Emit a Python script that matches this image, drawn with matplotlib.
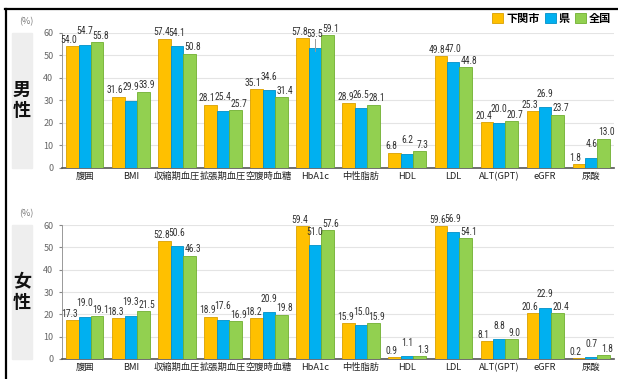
import matplotlib.pyplot as plt
import numpy as np
from matplotlib.patches import Rectangle
from matplotlib.lines import Line2D
from matplotlib import font_manager

plt.rcParams['font.family'] = ['Noto Sans CJK JP', 'DejaVu Sans']

# 数値ラベル用の細めのフォント（あるものを使う）
installed = {f.name for f in font_manager.fontManager.ttflist}
num_font = 'Noto Sans CJK JP'
for name in ['Liberation Sans Narrow', 'Roboto Condensed', 'DejaVu Sans Condensed',
             'Open Sans Condensed']:
    if name in installed:
        num_font = name
        break

# 検査項目
categories = ['腹囲', 'BMI', '収縮期血圧', '拡張期血圧', '空腹時血糖', 'HbA1c',
              '中性脂肪', 'HDL', 'LDL', 'ALT(GPT)', 'eGFR', '尿酸']
series_names = ['下関市', '県', '全国']

# 男性 (%)
male_city = [54.0, 31.6, 57.4, 28.1, 35.1, 57.8, 28.9, 6.8, 49.8, 20.4, 25.3, 1.8]
male_pref = [54.7, 29.9, 54.1, 25.4, 34.6, 53.5, 26.5, 6.2, 47.0, 20.0, 26.9, 4.6]
male_nation = [55.8, 33.9, 50.8, 25.7, 31.4, 59.1, 28.1, 7.3, 44.8, 20.7, 23.7, 13.0]

# 女性 (%)
female_city = [17.3, 18.3, 52.8, 18.9, 18.2, 59.4, 15.9, 0.9, 59.6, 8.1, 20.6, 0.2]
female_pref = [19.0, 19.3, 50.6, 17.6, 20.9, 51.0, 15.0, 1.1, 56.9, 8.8, 22.9, 0.7]
female_nation = [19.1, 21.5, 46.3, 16.9, 19.8, 57.6, 15.9, 1.3, 54.1, 9.0, 20.4, 1.8]

colors = ['#FFC000', '#00B0F0', '#92D050']
edges = ['#D9A000', '#0090C8', '#70B030']

fig = plt.figure(figsize=(6.18, 3.79), dpi=100)

# 外枠
fig.add_artist(Line2D([0.008, 1.0], [0.976, 0.976], color='black', lw=1.6))
fig.add_artist(Line2D([0.009, 0.009], [0.0, 0.976], color='black', lw=1.6))


def draw_panel(rect, data, side_label, box_rect):
    ax = fig.add_axes(rect)
    x = np.arange(len(categories))
    w = 0.27
    for i, vals in enumerate(data):
        xs = x + (i - 1) * w
        ax.bar(xs, vals, width=w, color=colors[i], edgecolor=edges[i],
               linewidth=0.6, zorder=3)
        for xi, v in zip(xs, vals):
            lift = 3.8 if i == 1 else 0.6
            shift = (i - 1) * 0.07
            ax.text(xi + shift, v + lift, f'{v:.1f}', ha='center', va='bottom',
                    fontsize=6.9, color='#333333', zorder=4, family=num_font)
    ax.set_xlim(-0.5, len(categories) - 0.5)
    ax.set_ylim(0, 60)
    ax.set_yticks(range(0, 61, 10))
    ax.yaxis.grid(True, color='#E4E4E4', lw=0.8, zorder=0)
    ax.set_axisbelow(True)
    ax.set_xticks(x)
    ax.set_xticklabels(categories, fontsize=6.7, color='#222222')
    ax.tick_params(axis='x', length=0, pad=3)
    ax.tick_params(axis='y', labelsize=6.5, labelcolor='#666666', length=2,
                   color='#888888', pad=4)
    for s in ['top', 'right']:
        ax.spines[s].set_visible(False)
    ax.spines['left'].set_color('#999999')
    ax.spines['left'].set_linewidth(0.7)
    ax.spines['bottom'].set_color('#555555')
    ax.spines['bottom'].set_linewidth(1.2)
    ax.text(-0.065, 1.05, '(%)', transform=ax.transAxes, fontsize=6.5,
            color='#777777', ha='center', va='bottom')
    # 左側の見出し
    fig.add_artist(Rectangle(box_rect[:2], box_rect[2], box_rect[3],
                             transform=fig.transFigure, color='#EEEEEE',
                             zorder=0))
    fig.text(box_rect[0] + box_rect[2] / 2, box_rect[1] + box_rect[3] / 2,
             side_label, ha='center', va='center', fontsize=13,
             fontweight='bold', linespacing=1.1, color='#111111')
    return ax


ax_m = draw_panel([0.100, 0.557, 0.894, 0.356],
                  [male_city, male_pref, male_nation], '男\n性',
                  (0.019, 0.557, 0.033, 0.356))
ax_f = draw_panel([0.100, 0.053, 0.894, 0.353],
                  [female_city, female_pref, female_nation], '女\n性',
                  (0.019, 0.053, 0.033, 0.353))

# HbA1c 県の引き出し線
hb = categories.index('HbA1c')
ax_m.plot([hb, hb], [male_pref[hb] + 3.8, male_pref[hb] - 1.5],
          color='#999999', lw=0.7, zorder=5)

# 凡例
handles = [Rectangle((0, 0), 1, 1, facecolor=c, edgecolor=e, lw=0.6)
           for c, e in zip(colors, edges)]
leg = fig.legend(handles, series_names, loc='center right',
                 bbox_to_anchor=(1.0, 0.952), ncol=3, frameon=False,
                 fontsize=8, handlelength=1.0, handleheight=1.0,
                 handletextpad=0.3, columnspacing=0.4, borderpad=0.1)
for t in leg.get_texts():
    t.set_fontweight('bold')

fig.savefig('out.png', dpi=100)
